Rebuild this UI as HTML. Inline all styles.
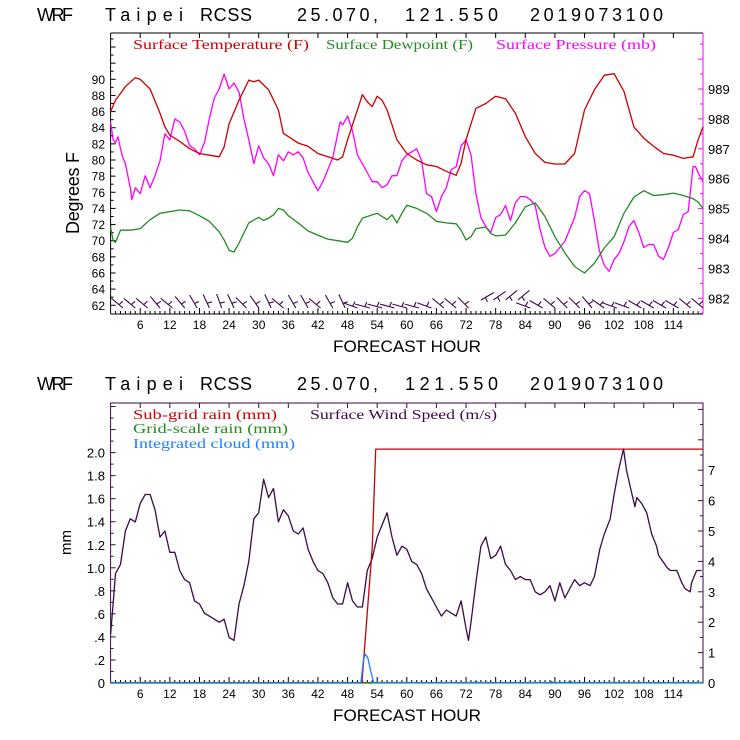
<!DOCTYPE html>
<html><head><meta charset="utf-8"><style>
html,body{margin:0;padding:0;background:#fff;}
svg{display:block;}
text{font-family:"Liberation Sans",sans-serif;}
.ser{font-family:"Liberation Serif",serif;font-size:14px;}
</style></head><body>
<svg id="c" width="740" height="740" viewBox="0 0 740 740" xmlns="http://www.w3.org/2000/svg">
<g id="topPanel"></g>
<g id="botPanel"></g>
</svg>
<script>
// ---- Data (top panel) ----
const tempHours=[0,1,3,5,6,8,10,11,12,14,16,18,20,22,23,24,26,28,29,30,32,34,35,36,38,40,42,44,46,47,48,50,51,52,53,54,55,56,58,60,62,64,66,68,70,71,72,74,76,78,80,82,84,86,88,90,92,94,96,98,100,102,104,106,108,110,112,114,116,118,119,120];
const tempVals=[86.0,87.4,89.1,90.2,90,88.8,85.8,84.1,83.1,82.3,81.4,80.8,80.6,80.4,81.6,84.5,87.4,89.9,89.7,89.9,88.7,86.2,83.3,82.9,82.1,81.7,80.8,80.4,80,80.4,82.5,86.2,88.1,87.2,86.6,87.9,87.4,86.2,82.5,80.8,80,79.4,79.2,78.6,78.1,79.6,82.5,86.4,87,87.9,87.6,85.8,82.9,80.8,79.7,79.5,79.5,80.8,86.2,88.7,90.5,90.7,88.5,84.1,82.7,81.7,80.8,80.6,80.2,80.4,82.5,84.1];
const dewHours=[0,0.5,1,2,4,6,8,10,12,14,16,18,20,22,23,24,25,26,28,30,31,32,33,34,35,36,38,40,42,44,46,48,49,50,51,54,56,57,58,59,60,62,64,66,68,70,71,72,73,74,76,77,78,80,82,84,86,88,90,92,94,96,98,100,102,104,106,108,110,112,114,116,118,119,120];
const dewVals=[71.7,70,69.8,71.3,71.3,71.5,72.6,73.4,73.6,73.8,73.7,73.1,72.4,71.1,70.1,68.8,68.6,69.7,72.2,72.9,72.5,72.8,73.2,74,73.8,73.1,72.2,71.2,70.7,70.2,70,69.8,70.3,71.7,72.8,73.4,72.6,73.2,72.2,73.4,74.4,74,73.4,72.4,72.2,72.1,71.3,70.1,70.5,71.5,71.7,70.9,70.6,70.7,72.2,74.2,74.7,73,70.5,68.5,66.8,66,67.2,69.1,70.5,73.4,75.4,76.2,75.6,75.7,75.9,75.6,75.2,74.8,74];
const presHours=[0,0.5,1,1.5,2,2.5,3,4,4.3,5,6,7,8,9,10,11,12,13,14,15,16,17,18,19,20,21,22,23,24,25,26,27,28,29,30,31,32,33,34,35,36,37,38,39,40,41,42,43,44,45,46,46.5,47,48,49,50,51,52,53,54,55,56,57,58,59,60,61,62,63,64,65,66,67,68,69,70,71,72,73,74,75,76,77,78,79,80,81,82,83,84,85,86,87,88,89,90,91,92,93,94,95,96,97,98,99,100,101,102,103,104,105,106,107,108,109,110,111,112,113,114,115,116,117,118,118.5,119,120];
const presVals=[987.9,987.3,987.2,987.4,987,986.7,986.5,985.7,985.3,985.7,985.5,986.1,985.7,986.1,986.6,987.5,987.3,988,987.9,987.6,987.1,987,986.8,987.2,988,988.7,989,989.5,989,989.2,988.9,988,987.3,986.5,987.1,986.7,986.5,986.1,986.8,986.6,986.9,986.8,986.9,986.7,986.2,985.9,985.6,985.9,986.3,986.7,987.5,987.9,987.8,988.1,987.6,986.8,986.5,986.2,985.9,985.9,985.7,985.8,986.1,986.1,986.6,986.8,986.9,987,986.6,985.5,985.4,984.9,985.4,985.7,986.3,986.4,987.1,987.3,986.8,985.5,984.7,984.4,984.2,984.7,984.8,985.1,984.6,985.2,985.4,985.4,985.3,985.1,984.3,983.7,983.4,983.5,983.7,983.9,984.3,984.7,985.4,985.6,985.5,984.6,983.6,983.1,982.9,983.3,983.5,983.9,984.4,984.6,984.2,983.7,983.8,983.8,983.4,983.3,983.7,984.2,984.3,984.8,984.9,986.4,986.4,986.2,985.9];
const barbHours=[1.5,4,6.5,9,11.5,14,16.5,19,21.5,24,26.5,29,31.5,34,36.5,39,41.5,44,46.5,49,51.5,54,56.5,59,61.5,64,66.5,69,71.5,74,76.5,79,81.5,84,86.5,89,91.5,94,96.5,99,101.5,104,106.5,109,111.5,114,116.5,119];
const barbAngle=[140,140,140,130,140,130,120,115,110,115,135,125,115,140,120,120,140,120,115,160,165,165,165,165,165,160,140,140,135,30,35,40,40,160,150,140,135,135,130,145,160,160,150,150,150,150,140,140];
const tempTicks=[62,64,66,68,70,72,74,76,78,80,82,84,86,88,90];
const presTicks=[982,983,984,985,986,987,988,989];
const hourTicks=[6,12,18,24,30,36,42,48,54,60,66,72,78,84,90,96,102,108,114];
// ---- Data (bottom panel) ----
const windHours=[0,0.5,1,2,3,4,5,6,7,8,9,10,11,12,13,14,15,16,17,18,19,20,21,22,23,24,25,26,27,28,29,30,31,32,33,34,35,36,37,38,39,40,41,42,43,44,45,46,47,48,49,50,51,52,53,54,55,56,57,58,59,60,61,62,63,64,65,66,67,68,69,70,71,72,72.5,73,74,75,76,77,78,79,80,81,82,83,84,85,86,87,88,89,90,91,92,93,94,95,96,97.1,98,99.1,100,101.2,102,102.9,103.9,104.5,105.2,106.2,106.6,107.6,108.6,109.6,110.6,111,112.7,113.4,114.7,115.7,116.4,117.4,117.7,118.7,119.7];
const windVals=[1.6,2.6,3.6,3.9,5.0,5.4,5.3,5.9,6.2,6.2,5.7,4.8,5.0,4.3,4.3,3.7,3.4,3.3,2.7,2.6,2.3,2.2,2.1,2.0,2.1,1.5,1.4,2.6,3.2,4.0,5.4,5.6,6.7,6.1,6.4,5.3,5.7,5.5,5.0,4.9,5.1,4.4,4.0,3.7,3.6,3.3,2.8,2.6,2.6,3.3,2.7,2.5,2.5,3.7,4.1,4.8,5.2,5.6,4.8,4.2,4.5,4.4,4.0,3.9,3.6,3.1,2.8,2.5,2.2,2.4,2.3,2.2,2.7,1.8,1.4,2.0,3.3,4.5,4.8,4.1,4.2,4.5,3.9,3.7,3.4,3.5,3.4,3.4,3.0,2.9,3.0,3.2,2.7,3.3,2.8,3.1,3.4,3.2,3.3,3.2,3.5,4.4,4.9,5.4,6.2,7.0,7.7,7.0,6.5,5.8,6.1,5.9,5.6,4.9,4.5,4.2,3.8,3.7,3.7,3.3,3.1,3.0,3.3,3.7,3.7];
const rainHours=[0,50.9,53,53.7,120];
const rainVals=[0,0,1.17,2.03,2.03];
const cloudHours=[0,50.7,51.2,51.6,52.1,52.7,53.3,73.6,74.0,74.4,88.8,89.3,89.8,92.6,93.1,93.6,120];
const cloudVals=[0,0,0.2,0.25,0.22,0.1,0,0,0.02,0,0,0.015,0,0,0.02,0,0];
const mmTicks=[0,0.2,0.4,0.6,0.8,1.0,1.2,1.4,1.6,1.8,2.0];
const mmLabels=["0",".2",".4",".6",".8","1.0","1.2","1.4","1.6","1.8","2.0"];
const windTicks=[0,1,2,3,4,5,6,7];

// ---- Scales ----
const X0=110.6,X1=703;
const xH=h=>X0+h*(X1-X0)/120;
const yT=f=>79.3+(90-f)*8.07;
const yP=p=>89+(989-p)*29.9;
const yMM=v=>683-v*115.2;
const yW=v=>683-v*30.4;
const NS='http://www.w3.org/2000/svg';
function mk(parent,tag,attrs,txt){const e=document.createElementNS(NS,tag);for(const k in attrs)e.setAttribute(k,attrs[k]);if(txt!==undefined)e.textContent=txt;parent.appendChild(e);return e;}
function drawPath(parent,hs,vs,ys,color,name){
  let d='';for(let i=0;i<hs.length;i++)d+=(i?'L':'M')+xH(hs[i]).toFixed(1)+' '+ys(vs[i]).toFixed(1);
  const p=mk(parent,'path',{d:d,fill:'none',stroke:color,'stroke-width':1.3,'stroke-linejoin':'round'});
  
  
  return p;
}
const topG=document.getElementById('topPanel'),botG=document.getElementById('botPanel');
const titleWords=["WRF","Taipei","RCSS","25.070,","121.550","2019073100"];
const titleX0=[37,105,200,297,405,530];
const titleX1=[73,183,252,378,498,663];
function drawTitle(g,y){
  const grp=mk(g,'g',{});
  
  
  titleWords.forEach((w,i)=>{mk(grp,'text',{x:titleX0[i],y:y,'font-size':18,textLength:titleX1[i]-titleX0[i],lengthAdjust:'spacing'},w);});
}

// ===== Top panel =====
drawTitle(topG,21);
mk(topG,'line',{x1:X0,y1:33,x2:X1,y2:33,stroke:'#000'});
mk(topG,'line',{x1:X0,y1:33,x2:X0,y2:314,stroke:'#000'});
mk(topG,'line',{x1:X0,y1:314,x2:X1,y2:314,stroke:'#000'});
mk(topG,'line',{x1:X1,y1:33,x2:X1,y2:314,stroke:'#ff00ff'});
for(let f=62;f<=95;f++){mk(topG,'line',{x1:X0,y1:yT(f),x2:X0+(f%2?3:5),y2:yT(f),stroke:'#000'});}
tempTicks.forEach(f=>{const e=mk(topG,'text',{x:105,y:yT(f)+4.5,'font-size':12,'text-anchor':'end'},String(f));
  
  });
for(let p=981.5;p<=990.5;p+=0.5){const y=yP(p);if(y<33||y>314)continue;mk(topG,'line',{x1:X1,y1:y,x2:X1-(p%1?3:5),y2:y,stroke:'#ff00ff'});}
presTicks.forEach(p=>{const e=mk(topG,'text',{x:708,y:yP(p)+5,'font-size':13},String(p));
  
  });
for(let h=1;h<120;h++){const L=h%6?3:6;mk(topG,'line',{x1:xH(h),y1:314,x2:xH(h),y2:314-L,stroke:'#000'});if(h%6==0)mk(topG,'line',{x1:xH(h),y1:33,x2:xH(h),y2:38,stroke:'#000'});}
hourTicks.forEach(h=>{const e=mk(topG,'text',{x:xH(h),y:329,'font-size':12,'text-anchor':'middle'},String(h));
  
  });
let t=mk(topG,'text',{x:333,y:352,'font-size':17,textLength:148,lengthAdjust:'spacingAndGlyphs'},'FORECAST HOUR');


t=mk(topG,'text',{x:0,y:0,'font-size':18,transform:'translate(79,234) rotate(-90)',textLength:82,lengthAdjust:'spacing'},'Degrees F');


t=mk(topG,'text',{x:133,y:49,fill:'#cc0000',class:'ser',textLength:176,lengthAdjust:'spacingAndGlyphs'},'Surface Temperature (F)');


t=mk(topG,'text',{x:326,y:49,fill:'#228b22',class:'ser',textLength:147,lengthAdjust:'spacingAndGlyphs'},'Surface Dewpoint (F)');


t=mk(topG,'text',{x:496,y:49,fill:'#ff00ff',class:'ser',textLength:160,lengthAdjust:'spacingAndGlyphs'},'Surface Pressure (mb)');


drawPath(topG,presHours,presVals,yP,'#ff00ff','pressure-line');
drawPath(topG,dewHours,dewVals,yT,'#228b22','dewpoint-line');
drawPath(topG,tempHours,tempVals,yT,'#cc0000','temperature-line');
barbHours.forEach((h,i)=>{
  const a=barbAngle[i]*Math.PI/180,L=15;
  const bx=xH(h)+5,by=a<Math.PI/2?300:308;
  const tx=bx+L*Math.cos(a),ty=by-L*Math.sin(a);
  const fa=a+Math.PI/2.2,fx=tx+5*Math.cos(fa+Math.PI),fy=ty-5*Math.sin(fa+Math.PI);
  const b=mk(topG,'path',{d:`M${bx.toFixed(1)} ${by}L${tx.toFixed(1)} ${ty.toFixed(1)}M${(bx+(tx-bx)*0.35).toFixed(1)} ${(by+(ty-by)*0.35).toFixed(1)}l${(fx-tx).toFixed(1)} ${(fy-ty).toFixed(1)}`,stroke:'#3c0a4a',fill:'none','stroke-width':1.1});
  
  
});

// ===== Bottom panel =====
drawTitle(botG,390);
mk(botG,'rect',{x:X0,y:403,width:X1-X0,height:280,fill:'none',stroke:'#3c0a4a'});
for(let v=0;v<=2.45;v+=0.1){const y=yMM(v);mk(botG,'line',{x1:X0,y1:y,x2:X0+(Math.round(v*10)%2?3:5),y2:y,stroke:'#3c0a4a'});}
mmTicks.forEach((v,i)=>{const e=mk(botG,'text',{x:105,y:yMM(v)+5,'font-size':13,'text-anchor':'end'},mmLabels[i]);
  
  });
for(let v=0;v<=9;v+=0.5){const y=yW(v);if(y<403)continue;mk(botG,'line',{x1:X1,y1:y,x2:X1-(v%1?3:5),y2:y,stroke:'#3c0a4a'});}
windTicks.forEach(v=>{const e=mk(botG,'text',{x:708,y:yW(v)+5,'font-size':13},String(v));
  
  });
for(let h=1;h<120;h++){const L=h%6?3:6;mk(botG,'line',{x1:xH(h),y1:683,x2:xH(h),y2:683-L,stroke:'#000'});if(h%6==0)mk(botG,'line',{x1:xH(h),y1:403,x2:xH(h),y2:408,stroke:'#3c0a4a'});}
hourTicks.forEach(h=>{const e=mk(botG,'text',{x:xH(h),y:698,'font-size':12,'text-anchor':'middle'},String(h));
  
  });
t=mk(botG,'text',{x:333,y:721,'font-size':17,textLength:148,lengthAdjust:'spacingAndGlyphs'},'FORECAST HOUR');


t=mk(botG,'text',{x:0,y:0,'font-size':15,transform:'translate(71,555) rotate(-90)'},'mm');


t=mk(botG,'text',{x:133,y:419,fill:'#cc0000',class:'ser',textLength:144,lengthAdjust:'spacingAndGlyphs'},'Sub-grid rain (mm)');


t=mk(botG,'text',{x:310,y:419,fill:'#3c0a4a',class:'ser',textLength:187,lengthAdjust:'spacingAndGlyphs'},'Surface Wind Speed (m/s)');


t=mk(botG,'text',{x:133,y:433,fill:'#228b22',class:'ser',textLength:155,lengthAdjust:'spacingAndGlyphs'},'Grid-scale rain (mm)');


t=mk(botG,'text',{x:133,y:448,fill:'#1e80ff',class:'ser',textLength:162,lengthAdjust:'spacingAndGlyphs'},'Integrated cloud (mm)');


mk(botG,'line',{x1:X0,y1:682.5,x2:X1,y2:682.5,stroke:'#228b22','stroke-width':1.3});
drawPath(botG,windHours,windVals,yW,'#3c0a4a','wind-speed-line');
drawPath(botG,rainHours,rainVals,yMM,'#cc0000','subgrid-rain-line');
drawPath(botG,cloudHours,cloudVals,yMM,'#1e80ff','integrated-cloud-line');
</script>
</body></html>
